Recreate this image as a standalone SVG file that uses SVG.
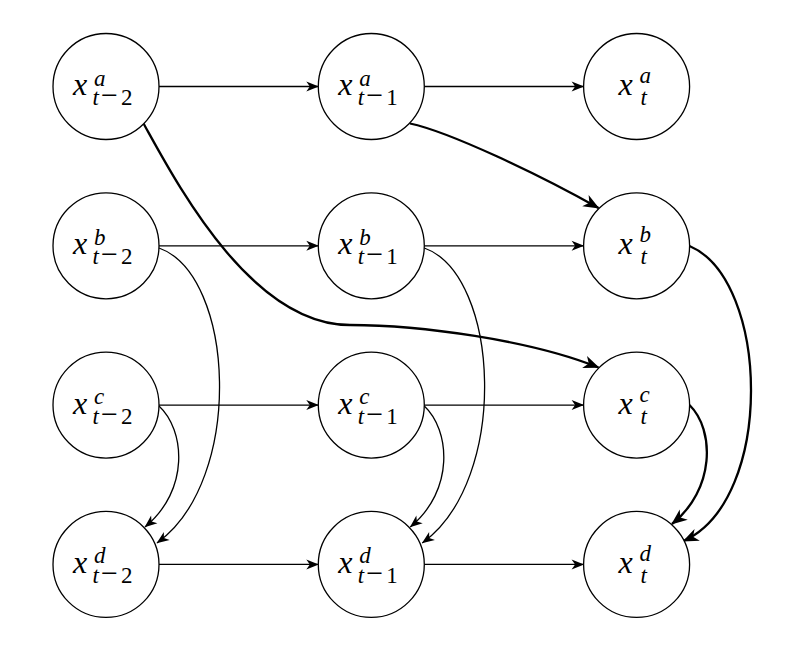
<svg xmlns="http://www.w3.org/2000/svg" width="793" height="652" viewBox="0 0 793 652">
<style>
  .node circle { fill: #fff; stroke: #000; stroke-width: 1.3; }
  .lbl { font-family: "Liberation Serif", "Times New Roman", serif; fill: #000; }
  .b { font-size: 32px; font-style: italic; }
  .s { font-size: 23px; font-style: italic; }
  .u { font-size: 23px; font-style: normal; }
  .m { font-size: 30px; font-style: normal; }
  .thin { fill: none; stroke: #000; stroke-width: 1.3; marker-end: url(#ah); }
  .thick { fill: none; stroke: #000; stroke-width: 2.3; marker-end: url(#ahb); }
</style>
<defs>
  <marker id="ah" markerUnits="userSpaceOnUse" viewBox="-14 -7 16 14" refX="0" refY="0" markerWidth="16" markerHeight="14" orient="auto">
    <path d="M0.5,0 L-12,-5 L-8.5,0 L-12,5 Z" fill="#000"/>
  </marker>
  <marker id="ahb" markerUnits="userSpaceOnUse" viewBox="-18 -9 20 18" refX="0" refY="0" markerWidth="20" markerHeight="18" orient="auto">
    <path d="M1,0 L-15,-6.5 L-10.5,0 L-15,6.5 Z" fill="#000"/>
  </marker>
</defs>
<rect width="793" height="652" fill="#fff"/>

<g id="connectors">
  <path class="thin" d="M159,86.5 H318.3"/>
  <path class="thin" d="M424.3,86.5 H583.6"/>
  <path class="thin" d="M159,245.8 H318.3"/>
  <path class="thin" d="M424.3,245.8 H583.6"/>
  <path class="thin" d="M159,405.1 H318.3"/>
  <path class="thin" d="M424.3,405.1 H583.6"/>
  <path class="thin" d="M159,564.4 H318.3"/>
  <path class="thin" d="M424.3,564.4 H583.6"/>
  <path class="thin" d="M159,248 C235,275 245,480 157,543"/>
  <path class="thin" d="M159,406 C185,430 190,490 145,527"/>
  <path class="thin" d="M424.3,248 C500,275 510,480 422.3,543"/>
  <path class="thin" d="M424.3,406 C450,430 455,490 410.3,527"/>
  <path class="thick" d="M143.5,123.5 C175,180 250,325 350,325 C420,325 530,340 598.5,367.5"/>
  <path class="thick" d="M410,123.5 C450,132 540,175 598.5,208"/>
  <path class="thick" d="M689.5,246 C770,280 775,500 683.5,541"/>
  <path class="thick" d="M689.5,405 C715,430 715,490 672,524"/>
</g>

<g id="n-a-t2" class="node"><circle cx="106" cy="86.5" r="53"/>
  <text class="lbl"><tspan class="b" x="73" y="95">x</tspan><tspan class="s" x="94" y="85.5">a</tspan><tspan class="s" x="92.5" y="105">t</tspan><tspan class="m" x="101" y="105">−</tspan><tspan class="u" x="121" y="105">2</tspan></text></g>
<g id="n-a-t1" class="node"><circle cx="371.3" cy="86.5" r="53"/>
  <text class="lbl"><tspan class="b" x="338.3" y="95">x</tspan><tspan class="s" x="359.3" y="85.5">a</tspan><tspan class="s" x="357.8" y="105">t</tspan><tspan class="m" x="366.3" y="105">−</tspan><tspan class="u" x="386.3" y="105">1</tspan></text></g>
<g id="n-a-t" class="node"><circle cx="636.6" cy="86.5" r="53"/>
  <text class="lbl"><tspan class="b" x="618.6" y="95">x</tspan><tspan class="s" x="639.6" y="83">a</tspan><tspan class="s" x="640.6" y="105">t</tspan></text></g>

<g id="n-b-t2" class="node"><circle cx="106" cy="245.8" r="53"/>
  <text class="lbl"><tspan class="b" x="73" y="254.3">x</tspan><tspan class="s" x="94" y="244.8">b</tspan><tspan class="s" x="92.5" y="264.3">t</tspan><tspan class="m" x="101" y="264.3">−</tspan><tspan class="u" x="121" y="264.3">2</tspan></text></g>
<g id="n-b-t1" class="node"><circle cx="371.3" cy="245.8" r="53"/>
  <text class="lbl"><tspan class="b" x="338.3" y="254.3">x</tspan><tspan class="s" x="359.3" y="244.8">b</tspan><tspan class="s" x="357.8" y="264.3">t</tspan><tspan class="m" x="366.3" y="264.3">−</tspan><tspan class="u" x="386.3" y="264.3">1</tspan></text></g>
<g id="n-b-t" class="node"><circle cx="636.6" cy="245.8" r="53"/>
  <text class="lbl"><tspan class="b" x="618.6" y="254.3">x</tspan><tspan class="s" x="639.6" y="242.3">b</tspan><tspan class="s" x="640.6" y="264.3">t</tspan></text></g>

<g id="n-c-t2" class="node"><circle cx="106" cy="405.1" r="53"/>
  <text class="lbl"><tspan class="b" x="73" y="413.6">x</tspan><tspan class="s" x="94" y="404.1">c</tspan><tspan class="s" x="92.5" y="423.6">t</tspan><tspan class="m" x="101" y="423.6">−</tspan><tspan class="u" x="121" y="423.6">2</tspan></text></g>
<g id="n-c-t1" class="node"><circle cx="371.3" cy="405.1" r="53"/>
  <text class="lbl"><tspan class="b" x="338.3" y="413.6">x</tspan><tspan class="s" x="359.3" y="404.1">c</tspan><tspan class="s" x="357.8" y="423.6">t</tspan><tspan class="m" x="366.3" y="423.6">−</tspan><tspan class="u" x="386.3" y="423.6">1</tspan></text></g>
<g id="n-c-t" class="node"><circle cx="636.6" cy="405.1" r="53"/>
  <text class="lbl"><tspan class="b" x="618.6" y="413.6">x</tspan><tspan class="s" x="639.6" y="401.6">c</tspan><tspan class="s" x="640.6" y="423.6">t</tspan></text></g>

<g id="n-d-t2" class="node"><circle cx="106" cy="564.4" r="53"/>
  <text class="lbl"><tspan class="b" x="73" y="572.9">x</tspan><tspan class="s" x="94" y="563.4">d</tspan><tspan class="s" x="92.5" y="582.9">t</tspan><tspan class="m" x="101" y="582.9">−</tspan><tspan class="u" x="121" y="582.9">2</tspan></text></g>
<g id="n-d-t1" class="node"><circle cx="371.3" cy="564.4" r="53"/>
  <text class="lbl"><tspan class="b" x="338.3" y="572.9">x</tspan><tspan class="s" x="359.3" y="563.4">d</tspan><tspan class="s" x="357.8" y="582.9">t</tspan><tspan class="m" x="366.3" y="582.9">−</tspan><tspan class="u" x="386.3" y="582.9">1</tspan></text></g>
<g id="n-d-t" class="node"><circle cx="636.6" cy="564.4" r="53"/>
  <text class="lbl"><tspan class="b" x="618.6" y="572.9">x</tspan><tspan class="s" x="639.6" y="560.9">d</tspan><tspan class="s" x="640.6" y="582.9">t</tspan></text></g>
</svg>
